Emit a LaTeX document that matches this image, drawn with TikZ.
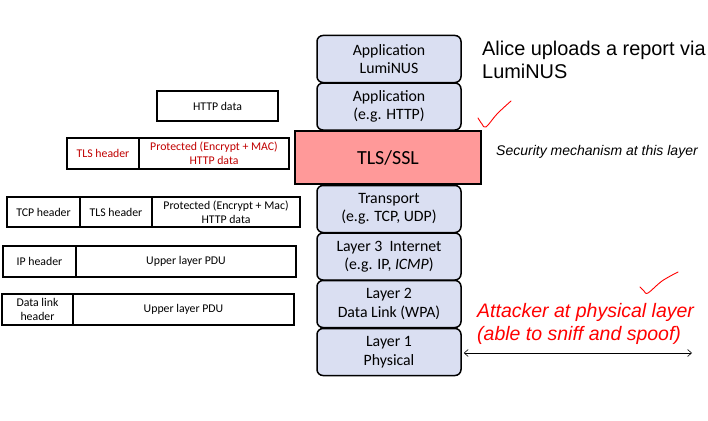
\documentclass[tikz,border=0pt]{standalone}
\usepackage{fontspec}
\setmainfont{Carlito}
\newfontfamily\arialfont{Liberation Sans}
\usetikzlibrary{arrows.meta}
\definecolor{layerfill}{RGB}{218,223,242}
\definecolor{tlsfill}{RGB}{255,153,153}
\definecolor{darkred}{RGB}{192,0,0}
\tikzset{
  layerbox/.style={draw, line width=1.5pt, rounded corners=6pt, fill=layerfill,
    minimum width=144pt, minimum height=47pt, align=center, inner sep=0pt,
    font=\fontsize{15.8}{18.5}\selectfont},
  cellbox/.style={draw, line width=1.3pt, minimum height=30pt, align=center, inner sep=0pt,
    font=\fontsize{11.8}{14}\selectfont},
  checkmark/.style={red, line width=0.9pt, line cap=round, line join=round}
}
\begin{document}
\begin{tikzpicture}[x=1pt, y=-1pt]
    \useasboundingbox (0,0) rectangle (708,420);
    % Define the nodes
    \node[layerbox] (applum) at (389, 59) {Application\\LumiNUS};
    \node[layerbox] (apphttp) at (389, 106.5) {Application\\(e.g. HTTP)};
    \node[layerbox] (transport) at (389, 209) {Transport\\(e.g. TCP, UDP)};
    \node[layerbox] (internet) at (389, 256.5) {Layer 3~~Internet\\(e.g. IP, \textit{ICMP})};
    \node[layerbox] (datalink) at (389, 304) {Layer 2\\Data Link (WPA)};
    \node[layerbox] (physical) at (389, 352) {Layer 1\\Physical};
    \node[draw, line width=1.5pt, fill=tlsfill, minimum width=186pt, minimum height=53pt,
      font=\fontsize{20}{24}\selectfont] (tls) at (388, 157.5) {TLS/SSL};
    
    \node[cellbox, minimum width=121pt] (httpdata) at (217.5, 106) {HTTP data};
    
    \node[cellbox, minimum width=72pt, text=darkred, minimum height=31pt] (tlshdr) at (103, 153.5) {TLS header};
    \node[cellbox, minimum width=150pt, text=darkred, minimum height=31pt] (tlsprot) at (214, 153.5) {Protected (Encrypt + MAC)\\HTTP data};
    
    \node[cellbox, minimum width=73pt] (tcphdr) at (43.5, 212) {TCP header};
    \node[cellbox, minimum width=72pt] (tcptlshdr) at (116, 212) {TLS header};
    \node[cellbox, minimum width=148pt] (tcpprot) at (226, 212) {Protected (Encrypt + Mac)\\HTTP data};
    
    \node[cellbox, minimum width=73pt, minimum height=31pt] (iphdr) at (39.5, 261.5) {IP header};
    \node[cellbox, minimum width=220pt, minimum height=31pt] (ippdu) at (186, 261.5) {Upper layer PDU};
    
    \node[cellbox, minimum width=71pt, minimum height=31pt] (dlhdr) at (37.5, 309.5) {Data link\\header};
    \node[cellbox, minimum width=221pt, minimum height=31pt] (dlpdu) at (183.5, 309.5) {Upper layer PDU};
    
    \node[anchor=north west, inner sep=0pt, align=left, font=\arialfont\fontsize{19.9}{22.5}\selectfont] (alice) at (482, 41) {Alice uploads a report via\\LumiNUS};
    \node[anchor=west, inner sep=0pt, font=\arialfont\itshape\fontsize{14}{17}\selectfont] (security) at (496, 152) {Security mechanism at this layer};
    \node[anchor=west, inner sep=0pt, align=left, text=red, font=\arialfont\itshape\fontsize{19.5}{23}\selectfont] (attacker) at (477, 323.5) {Attacker at physical layer\\(able to sniff and spoof)};
    \coordinate (attackend) at (692, 353);
    
    % Draw the edges
    \draw[{Straight Barb[length=4pt, width=7pt]}-{Straight Barb[length=4pt, width=7pt]}, line width=0.6pt] ([xshift=2pt, yshift=-1pt]physical.east) -- (attackend);
    
    % Ticks
    \draw[checkmark] plot[smooth, tension=0.6] coordinates {(478,118) (482,124) (486,127) (497,114) (511,101)};
    \draw[checkmark] plot[smooth, tension=0.6] coordinates {(640,287) (644,291) (648,293) (662,281) (678,272)};
\end{tikzpicture}
\end{document}
